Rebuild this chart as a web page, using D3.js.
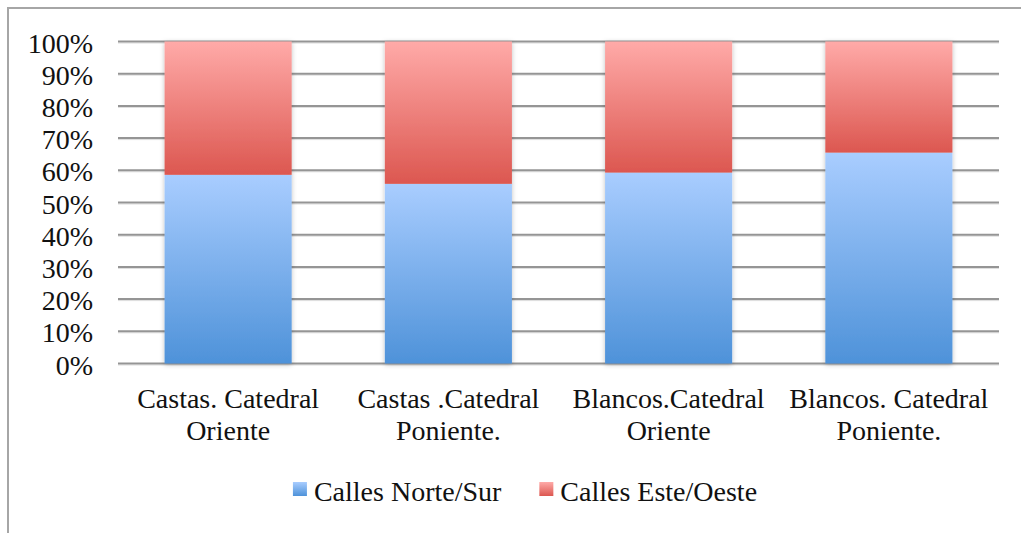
<!DOCTYPE html>
<html>
<head>
<meta charset="utf-8">
<script src="https://cdn.jsdelivr.net/npm/d3@7"></script>
<style>
  body { margin: 0; background: #fff; }
  svg text { font-family: "Liberation Serif", "DejaVu Serif", serif; fill: #111; }
</style>
</head>
<body>
<div id="chart"></div>
<script>
const categories = [
    ["Castas. Catedral", "Oriente"],
    ["Castas .Catedral", "Poniente."],
    ["Blancos.Catedral", "Oriente"],
    ["Blancos. Catedral", "Poniente."]
];
const seriesNames = ["Calles Norte/Sur", "Calles Este/Oeste"];
const norteSur = [0.586, 0.558, 0.593, 0.655];
const esteOeste = [0.414, 0.442, 0.407, 0.345];
const yTicks = [0, 0.1, 0.2, 0.3, 0.4, 0.5, 0.6, 0.7, 0.8, 0.9, 1];

const width = 1021, height = 533;
const fontSize = 28;

const svg = d3.select("#chart")
    .append("svg")
    .attr("width", width)
    .attr("height", height);

const defs = svg.append("defs");

function grad(id, top, bottom) {
    const g = defs.append("linearGradient")
        .attr("id", id)
        .attr("x1", 0).attr("y1", 0).attr("x2", 0).attr("y2", 1);
    g.append("stop").attr("offset", "0%").attr("stop-color", top);
    g.append("stop").attr("offset", "100%").attr("stop-color", bottom);
}
grad("blueGrad", "#a9cdff", "#4e92d9");
grad("redGrad", "#ffaaa8", "#dc5750");

const shadow = defs.append("filter").attr("id", "shadow")
    .attr("x", "-10%").attr("y", "-10%").attr("width", "120%").attr("height", "120%");
shadow.append("feDropShadow")
    .attr("dx", 0).attr("dy", 1).attr("stdDeviation", 2.5)
    .attr("flood-color", "#000").attr("flood-opacity", 0.25);

// frame
svg.append("path")
    .attr("d", `M8,${height} L8,8 L${width},8`)
    .attr("fill", "none")
    .attr("stroke", "#a6a6a6")
    .attr("stroke-width", 2);

const xScale = d3.scaleBand()
    .domain(d3.range(categories.length))
    .range([118, 999])
    .paddingInner(0.423)
    .paddingOuter(0.2115);

const yScale = d3.scaleLinear()
    .domain([0, 1])
    .range([363.5, 41.5]);

// gridlines
const grid = svg.append("g");
grid.selectAll("line.shade")
    .data(yTicks)
    .enter()
    .append("line")
    .attr("x1", 118).attr("x2", 999)
    .attr("y1", d => yScale(d) + 1.5).attr("y2", d => yScale(d) + 1.5)
    .attr("stroke", "#dcdcdc").attr("stroke-width", 1);
grid.selectAll("line.main")
    .data(yTicks)
    .enter()
    .append("line")
    .attr("x1", 118).attr("x2", 999)
    .attr("y1", d => yScale(d)).attr("y2", d => yScale(d))
    .attr("stroke", "#959595").attr("stroke-width", 2);

// y labels
svg.append("g").selectAll("text")
    .data(yTicks)
    .enter()
    .append("text")
    .attr("x", 93)
    .attr("y", d => yScale(d) + 11)
    .attr("text-anchor", "end")
    .style("font-size", fontSize + "px")
    .text(d => d3.format(".0%")(d));

// bars
const stacked = d3.stack().keys([0, 1])(norteSur.map((v, i) => ({0: v, 1: esteOeste[i]})));
const fills = ["url(#blueGrad)", "url(#redGrad)"];

const bars = svg.append("g").attr("filter", "url(#shadow)");
stacked.forEach((layer, k) => {
    bars.selectAll(null)
        .data(layer)
        .enter()
        .append("rect")
        .attr("x", (d, i) => xScale(i))
        .attr("width", xScale.bandwidth())
        .attr("y", d => yScale(d[1]))
        .attr("height", d => yScale(d[0]) - yScale(d[1]))
        .attr("fill", fills[k]);
});

// x labels
const xl = svg.append("g").selectAll("text")
    .data(categories)
    .enter()
    .append("text")
    .attr("text-anchor", "middle")
    .style("font-size", fontSize + "px");
xl.each(function(d, i) {
    const t = d3.select(this);
    d.forEach((line, j) => {
        t.append("tspan")
            .attr("x", xScale(i) + xScale.bandwidth() / 2)
            .attr("y", 408 + j * 32)
            .text(line);
    });
});

// legend
const legend = svg.append("g");
const items = legend.selectAll("g")
    .data(seriesNames)
    .enter()
    .append("g");
items.append("rect")
    .attr("width", 14).attr("height", 14)
    .attr("y", 482)
    .attr("fill", (d, i) => fills[i]);
items.append("text")
    .attr("x", 21)
    .attr("y", 501)
    .style("font-size", fontSize + "px")
    .text(d => d);

let widths = [];
items.select("text").each(function() { widths.push(this.getComputedTextLength() + 21); });
const gap = 38;
const total = d3.sum(widths) + gap;
let xPos = 525 - total / 2;
items.attr("transform", (d, i) => {
    const x = xPos;
    xPos += widths[i] + gap;
    return `translate(${x},0)`;
});
</script>
</body>
</html>
